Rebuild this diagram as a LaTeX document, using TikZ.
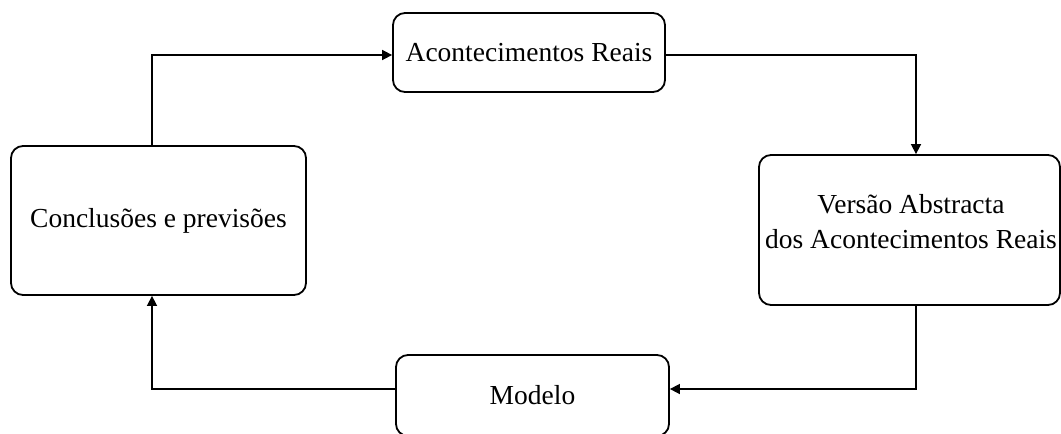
\documentclass[tikz,border=0pt]{standalone}
\usepackage{fontspec}
\setmainfont{Liberation Serif}
\usetikzlibrary{arrows.meta}
\begin{document}
\begin{tikzpicture}[x=1pt,y=-1pt,
  box/.style={draw=black, line width=1.8pt, rounded corners=12pt, fill=white,
    inner sep=0pt, align=center,
    font=\fontsize{27.5}{35}\selectfont},
  txt/.style={inner sep=0pt, align=center, font=\fontsize{27.5}{35}\selectfont},
  conn/.style={draw=black, line width=1.6pt,
    -{Triangle[length=10pt,width=10pt]}}]
\useasboundingbox (0,0) rectangle (1061,434);
\fill[white] (0,0) rectangle (1061,434);
\node[box, minimum width=272pt, minimum height=79pt] (T) at (529,52.5) {Acontecimentos Reais};
\node[box, minimum width=301pt, minimum height=150pt] (R) at (909.5,230) {};
\node[txt] (Rt) at (911,222) {Versão Abstracta\\dos Acontecimentos Reais};
\node[box, minimum width=273pt, minimum height=81pt] (M) at (532.5,395.5) {Modelo};
\node[box, minimum width=295pt, minimum height=149pt] (L) at (158.5,220.5) {Conclusões e previsões};
\coordinate (lx) at (152,0);
\coordinate (rx) at (916,0);
\coordinate (ty) at (0,55);
\coordinate (by) at (0,389);
\draw[conn] (L.north -| lx) |- (T.west |- ty);
\draw[conn] (T.east |- ty) -| (R.north -| rx);
\draw[conn] (R.south -| rx) |- (M.east |- by);
\draw[conn] (M.west |- by) -| (L.south -| lx);
\end{tikzpicture}
\end{document}
